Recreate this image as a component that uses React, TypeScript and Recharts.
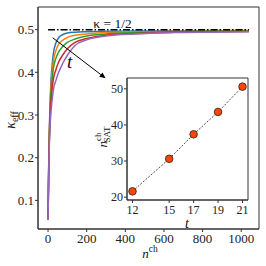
import React from 'react';
import { LineChart, Line, XAxis, YAxis, ReferenceLine, ReferenceArea, ReferenceDot } from 'recharts';

const FONT = '"Liberation Serif", "DejaVu Serif", serif';

// main panel: number of channels vs kappa_eff for several t
const nValues = [0, 2, 4, 7, 10, 14, 20, 28, 40, 55, 75, 100, 140, 200, 300, 450, 650, 850, 1040];
const kappaT12 = [0.055, 0.13, 0.2, 0.27, 0.32, 0.37, 0.41, 0.445, 0.468, 0.481, 0.488, 0.492, 0.494, 0.495, 0.496, 0.497, 0.497, 0.498, 0.498];
const kappaT15 = [0.055, 0.128, 0.196, 0.263, 0.31, 0.356, 0.394, 0.428, 0.45, 0.466, 0.475, 0.482, 0.487, 0.49, 0.493, 0.495, 0.496, 0.497, 0.497];
const kappaT17 = [0.055, 0.125, 0.192, 0.255, 0.3, 0.342, 0.377, 0.41, 0.432, 0.448, 0.46, 0.47, 0.478, 0.485, 0.49, 0.493, 0.495, 0.496, 0.496];
const kappaT19 = [0.055, 0.123, 0.186, 0.245, 0.285, 0.322, 0.355, 0.385, 0.405, 0.424, 0.44, 0.455, 0.47, 0.479, 0.487, 0.491, 0.494, 0.495, 0.4955];
const kappaT21 = [0.055, 0.12, 0.18, 0.235, 0.27, 0.3, 0.33, 0.36, 0.38, 0.4, 0.42, 0.44, 0.463, 0.476, 0.485, 0.49, 0.493, 0.494, 0.495];
const seriesColors = ['#1f77b4', '#ff7f0e', '#2ca02c', '#d62728', '#9467bd'];
const seriesKeys = ['t12', 't15', 't17', 't19', 't21'];
const seriesValues = [kappaT12, kappaT15, kappaT17, kappaT19, kappaT21];
const mainXTicks = [0, 200, 400, 600, 800, 1000];
const mainYTicks = [0.1, 0.2, 0.3, 0.4, 0.5];

// inset: saturation channel number vs t
const insetT = [12, 15, 17, 19, 21];
const insetNSat = [21.6, 30.6, 37.4, 43.6, 50.6];
const insetXTicks = [12, 15, 17, 19, 21];
const insetYTicks = [20, 25, 30, 35, 40, 45, 50];

const mainData = nValues.map((n, i) => {
  const row: Record<string, number> = { n };
  seriesKeys.forEach((k, j) => { row[k] = seriesValues[j][i]; });
  return row;
});
const insetData = insetT.map((t, i) => ({ t, nsat: insetNSat[i] }));

const tickStyle = { fontSize: 13, fill: '#222', fontFamily: FONT };
const insetTickStyle = { fontSize: 12, fill: '#222', fontFamily: FONT };

const Arrow = (props: any) => {
  const { x1, y1, x2, y2 } = props;
  const ang = Math.atan2(y2 - y1, x2 - x1);
  const L = 6, W = 2.6;
  const bx = x2 - L * Math.cos(ang), by = y2 - L * Math.sin(ang);
  const px = -Math.sin(ang) * W, py = Math.cos(ang) * W;
  return (
    <g>
      <line x1={x1} y1={y1} x2={bx} y2={by} stroke="#000" strokeWidth={1} />
      <polygon points={`${x2},${y2} ${bx + px},${by + py} ${bx - px},${by - py}`} fill="#000" />
    </g>
  );
};

export default function App() {
  return (
    <div style={{ position: 'absolute', left: 0, top: 0, width: 266, height: 266, background: '#fff' }}>
      <div style={{ position: 'absolute', left: 0, top: 0 }}>
        <LineChart width={266} height={266} data={mainData} margin={{ top: 7, right: 7, bottom: 7, left: 0 }}>
          <XAxis dataKey="n" type="number" domain={[-52, 1092]} ticks={mainXTicks} allowDataOverflow
            tickSize={3} tickMargin={2} height={30} tick={tickStyle} stroke="#333" />
          <YAxis type="number" domain={[0.033, 0.553]} ticks={mainYTicks} allowDataOverflow
            tickFormatter={(v: number) => v.toFixed(1)} tickSize={3} tickMargin={1} width={38} tick={tickStyle} stroke="#333" />
          <ReferenceArea x1={-52} x2={1092} y1={0.033} y2={0.553} fill="none" stroke="#333" strokeWidth={1} fillOpacity={0} />
          {seriesKeys.map((k, j) => (
            <Line key={k} dataKey={k} type="monotone" stroke={seriesColors[j]} strokeWidth={1.5} dot={false} isAnimationActive={false} />
          ))}
          <ReferenceLine segment={[{ x: 0, y: 0.5 }, { x: 1040, y: 0.5 }]} stroke="#000" strokeWidth={1.5} strokeDasharray="7 2 1.5 2" />
          <ReferenceLine segment={[{ x: 24, y: 0.481 }, { x: 298, y: 0.386 }]} shape={Arrow} />
          <ReferenceDot x={334} y={0.516} r={0} fill="none" stroke="none"
            label={{ value: 'κ = 1/2', position: 'center', fontSize: 13.5, fontFamily: FONT, fill: '#111' }} />
          <ReferenceDot x={112} y={0.426} r={0} fill="none" stroke="none"
            label={{ value: 't', position: 'center', fontSize: 19, fontStyle: 'italic', fontFamily: FONT, fill: '#111' }} />
        </LineChart>
      </div>
      <div style={{ position: 'absolute', left: 90, top: 70 }}>
        <LineChart width={166} height={160} data={insetData} margin={{ top: 8, right: 8, bottom: 0, left: 0 }}>
          <XAxis dataKey="t" type="number" domain={[11.55, 21.45]} ticks={insetXTicks} allowDataOverflow
            tickSize={3} tickMargin={2} height={30} tick={insetTickStyle} stroke="#333" />
          <YAxis type="number" domain={[19.2, 53]} ticks={insetYTicks} allowDataOverflow
            tickSize={3} tickMargin={1} width={37} tick={insetTickStyle} stroke="#333" />
          <ReferenceArea x1={11.55} x2={21.45} y1={19.2} y2={53} fill="none" stroke="#333" strokeWidth={1} fillOpacity={0} />
          <Line dataKey="nsat" type="linear" stroke="#222" strokeWidth={0.8} strokeDasharray="2 1.5" isAnimationActive={false}
            dot={{ r: 3.8, fill: '#ff4500', stroke: '#222', strokeWidth: 0.8, strokeDasharray: '' }} />
        </LineChart>
      </div>
      <svg width={266} height={266} style={{ position: 'absolute', left: 0, top: 0, pointerEvents: 'none' }}
        fontFamily={FONT} fill="#111">
        <text transform="translate(15,120) rotate(-90)" textAnchor="middle" fontSize={14}>
          <tspan fontStyle="italic">κ</tspan><tspan fontSize={10} dy={3}>eff</tspan>
        </text>
        <text x={150} y={258} textAnchor="middle" fontSize={13}>
          <tspan fontStyle="italic">n</tspan><tspan fontSize={9.5} dy={-6}>ch</tspan>
        </text>
        <text transform="translate(107,137) rotate(-90)" textAnchor="middle" fontSize={13}>
          <tspan fontStyle="italic">n</tspan><tspan fontSize={9} dy={-6}>ch</tspan><tspan fontSize={9} dx={-10} dy={9}>SAT</tspan>
        </text>
        <text x={187} y={228} textAnchor="middle" fontSize={14} fontStyle="italic">t</text>
      </svg>
    </div>
  );
}
